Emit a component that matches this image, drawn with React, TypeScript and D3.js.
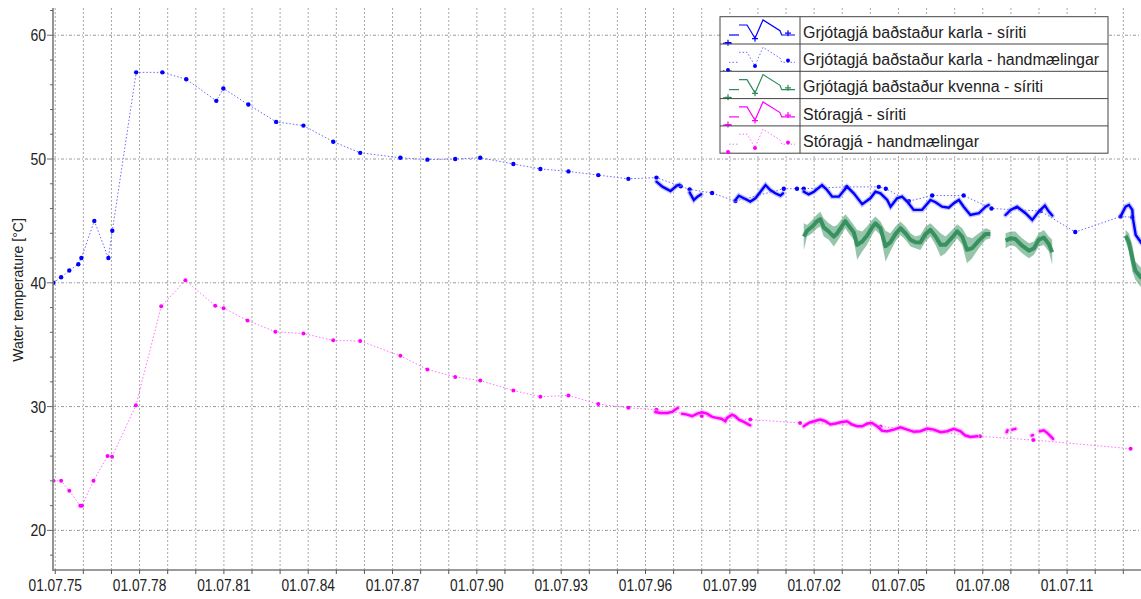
import React from "react";
import * as d3 from "d3";

// ---------- data (decimal year, °C) ----------
const xTickYears = [1975.5, 1978.5, 1981.5, 1984.5, 1987.5, 1990.5, 1993.5, 1996.5, 1999.5, 2002.5, 2005.5, 2008.5, 2011.5];
const xTickLabels = ["01.07.75", "01.07.78", "01.07.81", "01.07.84", "01.07.87", "01.07.90", "01.07.93", "01.07.96", "01.07.99", "01.07.02", "01.07.05", "01.07.08", "01.07.11"];
const yTickValues = [20, 30, 40, 50, 60];
const seriesNames = [
  "Grjótagjá baðstaður karla - síriti",
  "Grjótagjá baðstaður karla - handmælingar",
  "Grjótagjá baðstaður kvenna - síriti",
  "Stóragjá - síriti",
  "Stóragjá - handmælingar",
];

const karlaManual: [number, number][] = [
  [1975.43, 40.0], [1975.71, 40.45], [1976.0, 41.0], [1976.32, 41.5], [1976.43, 42.0], [1976.89, 45.0],
  [1977.39, 42.0], [1977.53, 44.2], [1978.38, 57.0], [1979.31, 57.0], [1980.16, 56.45], [1981.23, 54.7],
  [1981.48, 55.7], [1982.37, 54.4], [1983.36, 53.0], [1984.33, 52.7], [1985.39, 51.4], [1986.35, 50.5],
  [1987.78, 50.1], [1988.74, 49.95], [1989.73, 50.0], [1990.62, 50.1], [1991.8, 49.6], [1992.76, 49.2],
  [1993.76, 49.0], [1994.82, 48.7], [1995.89, 48.4], [1996.89, 48.5], [1997.75, 47.8], [1998.07, 47.55],
  [1998.87, 47.25], [1999.7, 46.6], [2001.42, 47.6], [2001.89, 47.6], [2002.13, 47.6], [2003.65, 47.75],
  [2004.8, 47.75], [2005.05, 47.6], [2005.87, 46.6], [2006.7, 47.05], [2007.82, 47.05], [2008.81, 46.0],
  [2010.55, 45.8], [2011.79, 44.1], [2013.4, 45.35], [2013.82, 45.3],
];

const karlaSensor: [number, number][][] = [
  [[1996.89, 48.17], [1997.1, 47.77], [1997.39, 47.42], [1997.62, 47.85], [1997.71, 47.93]],
  [[1998.07, 47.3], [1998.22, 46.69], [1998.35, 46.96], [1998.48, 47.15]],
  [[1999.7, 46.69], [1999.82, 47.04], [2000.0, 46.83], [2000.23, 46.56], [2000.41, 46.83], [2000.59, 47.36],
   [2000.77, 47.9], [2000.94, 47.5], [2001.12, 47.23], [2001.3, 47.04], [2001.39, 47.23]],
  [[2002.13, 47.36], [2002.31, 47.15], [2002.49, 47.36], [2002.78, 47.9], [2002.96, 47.5], [2003.14, 46.96],
   [2003.38, 46.96], [2003.67, 47.77], [2003.91, 47.23], [2004.21, 46.35], [2004.5, 46.83], [2004.68, 47.36],
   [2004.86, 47.23], [2005.1, 46.69], [2005.22, 46.15], [2005.45, 46.83], [2005.63, 46.96], [2005.81, 46.56],
   [2006.04, 45.89], [2006.34, 45.89], [2006.64, 46.69], [2006.82, 46.51], [2007.05, 46.15], [2007.29, 46.07],
   [2007.47, 46.43], [2007.65, 46.69], [2007.82, 46.15], [2008.06, 45.48], [2008.36, 45.62], [2008.6, 46.15],
   [2008.71, 46.29]],
  [[2009.31, 45.48], [2009.49, 45.89], [2009.72, 46.15], [2010.02, 45.62], [2010.26, 45.08], [2010.49, 45.75],
   [2010.71, 46.23], [2010.85, 45.75], [2010.97, 45.43]],
  [[2013.4, 45.35], [2013.58, 46.15], [2013.7, 46.29], [2013.82, 45.89], [2013.84, 45.22], [2013.94, 43.87],
   [2014.15, 43.2]],
];

// [year, high, low]
const kvennaSensor: [number, number, number][][] = [
  [[2002.13, 44.81, 42.66], [2002.25, 44.68, 43.74], [2002.43, 45.08, 44.01], [2002.61, 45.54, 44.41],
   [2002.72, 45.75, 44.54], [2002.84, 45.22, 43.74], [2003.02, 44.81, 43.47], [2003.2, 44.54, 42.93],
   [2003.32, 44.68, 43.33], [2003.5, 45.22, 44.01], [2003.61, 45.54, 44.41], [2003.73, 45.22, 44.01],
   [2003.91, 44.68, 43.47], [2004.03, 44.27, 41.86], [2004.21, 44.14, 42.53], [2004.38, 44.54, 43.06],
   [2004.56, 45.08, 43.87], [2004.68, 45.35, 44.27], [2004.86, 44.95, 43.87], [2005.04, 44.2, 41.72],
   [2005.21, 44.01, 42.53], [2005.39, 44.54, 43.33], [2005.57, 44.95, 43.87], [2005.75, 44.54, 43.47],
   [2005.93, 44.01, 42.93], [2006.1, 43.74, 42.8], [2006.28, 43.87, 42.66], [2006.46, 44.54, 43.33],
   [2006.64, 44.81, 43.74], [2006.82, 44.41, 43.06], [2007.0, 44.01, 42.12], [2007.17, 43.74, 42.39],
   [2007.41, 44.27, 43.06], [2007.59, 44.73, 43.6], [2007.77, 44.41, 43.06], [2007.94, 43.74, 41.59],
   [2008.12, 43.6, 41.99], [2008.36, 44.01, 42.8], [2008.6, 44.41, 43.47], [2008.77, 44.27, 43.6]],
  [[2009.31, 44.01, 42.8], [2009.49, 44.14, 43.06], [2009.66, 44.14, 42.93], [2009.9, 43.6, 42.39],
   [2010.14, 43.2, 41.99], [2010.32, 43.33, 42.26], [2010.49, 44.01, 42.93], [2010.67, 44.27, 43.06],
   [2010.85, 43.74, 42.53], [2010.97, 43.47, 41.45]],
  [[2013.58, 44.27, 43.33], [2013.7, 44.01, 42.53], [2013.82, 43.06, 40.92], [2013.93, 41.72, 40.24],
   [2014.15, 41.18, 39.57]],
];

const storagjaSensor: [number, number][][] = [
  [[1996.85, 29.57], [1997.03, 29.49], [1997.27, 29.49], [1997.45, 29.57], [1997.56, 29.76], [1997.65, 29.89]],
  [[1997.8, 29.43], [1997.98, 29.35], [1998.16, 29.22], [1998.34, 29.43], [1998.51, 29.54], [1998.69, 29.43],
   [1998.87, 29.17], [1999.04, 29.09], [1999.22, 29.0], [1999.34, 28.82], [1999.4, 29.09], [1999.58, 29.35],
   [1999.7, 29.22], [1999.82, 28.95], [2000.0, 28.76], [2000.17, 28.55], [2000.23, 28.49]],
  [[2002.13, 28.41], [2002.31, 28.68], [2002.49, 28.82], [2002.72, 28.95], [2002.9, 28.82], [2003.08, 28.55],
   [2003.26, 28.63], [2003.44, 28.74], [2003.67, 28.82], [2003.85, 28.55], [2004.03, 28.41], [2004.21, 28.41],
   [2004.39, 28.63], [2004.56, 28.68], [2004.74, 28.41], [2004.92, 28.05], [2005.1, 28.01], [2005.33, 28.14],
   [2005.57, 28.33], [2005.81, 28.14], [2006.05, 27.96], [2006.28, 28.01], [2006.52, 28.23], [2006.76, 28.14],
   [2007.0, 27.93], [2007.23, 28.01], [2007.47, 28.2], [2007.71, 28.01], [2007.88, 27.66], [2008.06, 27.55],
   [2008.3, 27.6]],
  [[2009.35, 27.93], [2009.38, 28.09]],
  [[2009.55, 28.14], [2009.66, 28.2]],
  [[2010.24, 27.66], [2010.28, 27.7]],
  [[2010.53, 28.01], [2010.67, 28.09], [2010.79, 27.88], [2010.91, 27.61], [2011.0, 27.39]],
];

const storagjaManual: [number, number][] = [
  [1975.43, 24.0], [1975.71, 24.0], [1976.0, 23.2], [1976.39, 22.0], [1976.45, 22.0], [1976.86, 24.0],
  [1977.36, 26.0], [1977.52, 25.95], [1978.37, 30.1], [1979.27, 38.1], [1980.13, 40.2], [1981.19, 38.15],
  [1981.49, 37.95], [1982.34, 36.95], [1983.33, 36.05], [1984.33, 35.9], [1985.39, 35.35], [1986.35, 35.3],
  [1987.78, 34.1], [1988.74, 33.0], [1989.73, 32.4], [1990.62, 32.1], [1991.8, 31.3], [1992.76, 30.8],
  [1993.76, 30.9], [1994.82, 30.2], [1995.89, 29.9], [1996.89, 29.75], [1998.5, 29.25], [2000.23, 28.95],
  [2002.0, 28.68], [2004.86, 28.4], [2008.4, 27.6], [2010.3, 27.3], [2013.76, 26.6],
];

// ---------- drawing ----------
const FONT = "'Liberation Sans', Arial, sans-serif";
const BLUE = "#0000ff";
const BLUE_LIGHT = "#6a6aff";
const GREEN = "#2e8b57";
const MAGENTA = "#ff00ff";
const MAGENTA_LIGHT = "#ff70ff";

export default function App() {
  const left = 53, right = 1141, top = 8, bottom = 570;
  const x = d3.scaleLinear().domain([1975.42, 2014.2]).range([53, 1143]);
  const y = d3.scaleLinear().domain([16.8, 62.2]).range([bottom, top]);
  const line = d3.line<[number, number]>().x((d) => x(d[0])).y((d) => y(d[1]));
  const area = d3
    .area<[number, number, number]>()
    .x((d) => x(d[0]))
    .y0((d) => y(d[2]))
    .y1((d) => y(d[1]));
  const midLine = d3
    .line<[number, number, number]>()
    .x((d) => x(d[0]))
    .y((d) => y((d[1] + d[2]) / 2));

  const yearTicks = d3.range(1975.5, 2014.2, 1);
  const minorY = d3.range(18, 62.1, 2);

  // legend geometry
  const lgX = 720, lgY = 16.7, lgW = 388, rowH = 27.3, sampleW = 80;
  const sampleLines = [
    [[3, 26.5], [12, 26.5]],
    [[9, 18.3], [19, 18.3]],
    [[19, 8.3], [27, 8.3], [35, 21.6], [43, 3.3], [60, 14], [61.7, 18.3], [75, 18.3]],
  ];
  const markerPts = [[8, 26], [35, 22], [68, 16.5]];
  const legendStyles = [
    { color: BLUE, dash: undefined, marker: "plus", width: 1.2 },
    { color: BLUE_LIGHT, dash: "1.5,2", marker: "dot", width: 1 },
    { color: GREEN, dash: undefined, marker: "plus", width: 1.2 },
    { color: MAGENTA, dash: undefined, marker: "plus", width: 1.2 },
    { color: MAGENTA_LIGHT, dash: "1.5,2", marker: "dot", width: 1 },
  ];
  const markerColors = [BLUE, BLUE, GREEN, MAGENTA, MAGENTA];

  return (
    <svg
      width={1141}
      height={599}
      style={{ position: "absolute", left: 0, top: 0, background: "#fff" }}
      fontFamily={FONT}
    >
      <defs>
        <clipPath id="plot">
          <rect x={left} y={top} width={right - left} height={bottom - top} />
        </clipPath>
      </defs>
      <rect x={0} y={0} width={1141} height={599} fill="#fff" />

      {/* grid */}
      {yearTicks.map((t) => (
        <line key={"vg" + t} x1={x(t)} x2={x(t)} y1={top} y2={bottom} stroke="#a8a8a8" strokeWidth={1} strokeDasharray="2,2" />
      ))}
      {yTickValues.map((v) => (
        <line key={"hg" + v} x1={left} x2={right} y1={y(v)} y2={y(v)} stroke="#9a9a9a" strokeWidth={1} strokeDasharray="3,2,1,2" />
      ))}

      <g clipPath="url(#plot)">
        {/* Stóragjá manual */}
        <path d={line(storagjaManual) || ""} fill="none" stroke={MAGENTA_LIGHT} strokeWidth={1} strokeDasharray="1.5,2" />
        {storagjaManual.map((d, i) => (
          <circle key={"sm" + i} cx={x(d[0])} cy={y(d[1])} r={2} fill={MAGENTA} />
        ))}
        {/* Stóragjá sensor */}
        {storagjaSensor.map((s, i) => (
          <g key={"ss" + i}>
            <path d={line(s) || ""} fill="none" stroke="#ff9cff" strokeWidth={5} strokeLinecap="round" opacity={0.6} />
            <path d={line(s) || ""} fill="none" stroke={MAGENTA} strokeWidth={2.5} strokeLinecap="round" />
          </g>
        ))}
        {/* kvenna sensor */}
        {kvennaSensor.map((s, i) => (
          <g key={"ks" + i}>
            <path d={area(s) || ""} fill={GREEN} opacity={0.5} />
            <path d={midLine(s) || ""} fill="none" stroke={GREEN} strokeWidth={4} opacity={0.9} strokeLinejoin="round" />
          </g>
        ))}
        {/* karla manual */}
        <path d={line(karlaManual) || ""} fill="none" stroke={BLUE_LIGHT} strokeWidth={1} strokeDasharray="1.5,2" />
        {karlaManual.map((d, i) => (
          <circle key={"km" + i} cx={x(d[0])} cy={y(d[1])} r={2.2} fill={BLUE} />
        ))}
        {/* karla sensor */}
        {karlaSensor.map((s, i) => (
          <g key={"kss" + i}>
            <path d={line(s) || ""} fill="none" stroke="#8c8cff" strokeWidth={5} strokeLinecap="round" opacity={0.5} />
            <path d={line(s) || ""} fill="none" stroke={BLUE} strokeWidth={2.4} strokeLinecap="round" />
          </g>
        ))}
      </g>

      {/* axes */}
      <line x1={left} x2={left} y1={top} y2={bottom + 1} stroke="#7a7a7a" strokeWidth={1.6} />
      <line x1={left} x2={right} y1={bottom} y2={bottom} stroke="#7a7a7a" strokeWidth={1.4} />
      {yearTicks.map((t) => (
        <line key={"xt" + t} x1={x(t)} x2={x(t)} y1={bottom} y2={bottom + 4} stroke="#555" strokeWidth={1} />
      ))}
      {minorY.map((v) => (
        <line key={"ymt" + v} x1={left - (v % 10 === 0 ? 6 : 3)} x2={left} y1={y(v)} y2={y(v)} stroke="#666" strokeWidth={1} />
      ))}
      {yTickValues.map((v) => (
        <text
          key={"yl" + v}
          transform={`translate(${left - 7},${y(v) + 6}) scale(0.85,1)`}
          textAnchor="end"
          fontSize={16.5}
          fill="#222"
        >
          {v}
        </text>
      ))}
      {xTickYears.map((t, i) => (
        <text
          key={"xl" + t}
          transform={`translate(${x(t)},${bottom + 21}) scale(0.86,1)`}
          textAnchor="middle"
          fontSize={16}
          fill="#222"
        >
          {xTickLabels[i]}
        </text>
      ))}
      <text transform={`translate(23,290) rotate(-90)`} textAnchor="middle" fontSize={14} fill="#222">
        Water temperature [°C]
      </text>

      {/* legend */}
      <g>
        <rect x={lgX} y={lgY} width={lgW} height={rowH * 5} fill="#fff" stroke="#444" strokeWidth={1} />
        <line x1={lgX + sampleW} x2={lgX + sampleW} y1={lgY} y2={lgY + rowH * 5} stroke="#444" strokeWidth={1} />
        {seriesNames.map((name, i) => {
          const ry = lgY + i * rowH;
          const st = legendStyles[i];
          return (
            <g key={"lg" + i}>
              {i > 0 && <line x1={lgX} x2={lgX + lgW} y1={ry} y2={ry} stroke="#444" strokeWidth={1} />}
              {sampleLines.map((pts, j) => (
                <polyline
                  key={j}
                  points={pts.map((p) => `${lgX + p[0]},${ry + p[1]}`).join(" ")}
                  fill="none"
                  stroke={st.color}
                  strokeWidth={st.width}
                  strokeDasharray={st.dash}
                />
              ))}
              {markerPts.map((p, j) =>
                st.marker === "dot" ? (
                  <circle key={"m" + j} cx={lgX + p[0]} cy={ry + p[1]} r={2} fill={markerColors[i]} />
                ) : (
                  <path
                    key={"m" + j}
                    d={`M${lgX + p[0] - 3},${ry + p[1]}h6M${lgX + p[0]},${ry + p[1] - 3}v6`}
                    stroke={markerColors[i]}
                    strokeWidth={1.2}
                  />
                )
              )}
              <text x={lgX + sampleW + 3} y={ry + 21} fontSize={16} fill="#222">
                {name}
              </text>
            </g>
          );
        })}
      </g>
    </svg>
  );
}
